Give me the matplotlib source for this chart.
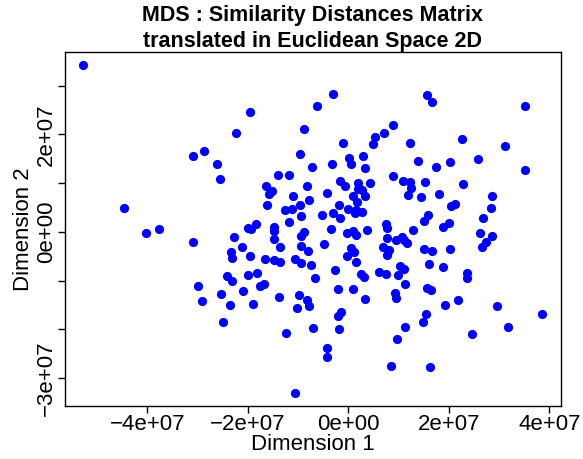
import matplotlib.pyplot as plt

plt.rcParams['font.family'] = ['Liberation Sans', 'DejaVu Sans']

# MDS coordinates (units of 1e6)
dim1 = [-52.7, -30.8, -19.5, -22.4, -28.8, -26.1, -8.9, -6.3, -9.7, -7.2,
        -3.0, 15.6, 16.6, 8.9, 7.1, 5.4, 5.0, -1.1, 12.3, 2.9,
        0.1, 0.5, -3.3, 3.3, 13.8, 17.5, 35.2, 22.6, 31.1, 20.3,
        25.9, 35.2, -44.6, -40.3, -37.7, -30.8, -29.8, -25.5, -13.9, -11.7,
        -16.3, -15.8, -15.2, -8.2, -10.9, -7.9, -16.2, -12.5, -11.1, -9.6,
        -9.4, -11.7, -5.2, -20.0, -19.3, -18.3, -14.7, -14.7, -14.8, -22.8,
        -9.4, -8.9, -21.2, -23.4, -23.2, -19.5, -13.5, -9.5, -8.1, -16.5,
        -14.7, -13.5, -10.6, -9.5, -7.4, -24.2, -23.2, -19.9, -18.1, -6.6,
        -17.5, -16.7, -20.9, -29.0, -25.3, -23.6, -18.9, -25.0, -13.7, -9.8,
        -8.2, -7.8, -10.2, -7.0, -12.3, -10.5, -1.6, -0.7, 2.0, 4.3,
        2.0, 2.7, -4.2, 0.9, 3.3, 8.9, 10.8, 12.2, 12.4, 11.9,
        15.2, 14.4, 18.0, -1.8, 1.7, 0.0, 1.6, 2.8, 1.3, -3.0,
        -1.6, 15.8, 15.0, 18.8, -3.5, -0.3, 0.9, 1.5, 3.8, 7.5,
        7.7, 7.8, 12.8, 9.4, 10.6, 11.1, 11.7, -4.8, 0.5, 1.2,
        -0.3, 6.9, 8.1, 7.8, 15.0, 16.7, 1.5, -2.6, 2.5, 3.2,
        6.1, 7.6, 10.2, 11.0, 9.8, 16.0, 18.8, 11.2, -2.1, 1.0,
        15.6, 16.4, 3.3, 9.2, 9.4, 19.3, -1.4, -2.0, -1.8, 11.2,
        15.5, 14.9, 9.7, -4.3, -4.3, 8.5, 16.3, 22.8, 28.5, 20.5,
        21.2, 28.3, 26.9, 20.0, 26.3, 28.5, 27.4, 26.7, 20.3, 23.6,
        23.6, 21.9, 29.5, 38.6, 31.8, 24.7]
dim2 = [34.2, 15.6, 24.6, 20.2, 16.5, 13.9, 21.0, 25.9, 16.0, 13.4,
        28.3, 28.0, 26.7, 22.0, 20.2, 19.4, 18.0, 18.3, 18.3, 15.5,
        15.2, 14.0, 13.9, 13.1, 14.5, 13.4, 25.9, 19.1, 17.6, 14.3,
        15.0, 12.6, 4.9, -0.2, 0.5, -2.0, -11.1, 10.9, 11.7, 11.7,
        9.5, 7.8, 8.3, 9.4, 7.3, 6.5, 5.6, 4.4, 4.6, 5.6,
        3.3, 2.1, 3.4, 0.9, 0.6, 1.6, 1.1, 0.1, -1.4, -1.0,
        -0.8, -0.1, -3.1, -4.1, -5.4, -5.0, -3.0, -2.9, -3.9, -5.6,
        -5.7, -6.2, -5.6, -6.4, -6.8, -9.1, -10.1, -8.8, -8.4, -9.5,
        -11.0, -10.6, -12.2, -14.1, -12.8, -15.0, -14.8, -18.5, -13.4, -13.0,
        -13.9, -15.2, -15.6, -19.7, -20.8, -33.0, 10.5, 9.5, 10.0, 10.0,
        8.8, 8.6, 8.0, 7.4, 7.3, 11.4, 10.5, 10.3, 9.1, 7.6,
        10.3, 7.1, 7.8, 5.6, 6.2, 4.7, 4.5, 4.1, 3.8, 3.9,
        2.8, 3.5, 2.3, 1.1, 0.7, -0.3, 0.2, -0.6, 0.3, 1.6,
        0.9, -1.2, 0.3, -1.6, -1.1, -1.6, -2.3, -2.5, -3.2, -4.2,
        -4.9, -3.0, -3.8, -4.8, -3.4, -4.0, -6.1, -7.8, -8.6, -9.2,
        -8.2, -8.6, -6.9, -7.5, -8.9, -6.6, -7.1, -10.7, -11.7, -11.7,
        -11.4, -11.9, -13.8, -12.6, -13.6, -14.9, -16.4, -17.3, -20.0, -19.4,
        -16.9, -18.5, -21.9, -23.7, -25.7, -27.4, -27.7, 9.8, 7.3, 5.4,
        5.8, 5.0, 2.8, 1.8, -0.3, -0.8, -2.0, -3.0, -3.5, -8.4,
        -9.5, -13.9, -15.2, -16.9, -19.5, -21.0]

x_ticks = [-4e7, -2e7, 0, 2e7, 4e7]
x_labels = ['\u22124e+07', '\u22122e+07', '0e+00', '2e+07', '4e+07']
y_ticks = [-3e7, -2e7, -1e7, 0, 1e7, 2e7, 3e7]
y_labels = ['\u22123e+07', '', '', '0e+00', '', '2e+07', '']

x = [v * 1e6 for v in dim1]
y = [v * 1e6 for v in dim2]

fig = plt.figure(figsize=(5.83, 4.59), dpi=100)
ax = fig.add_axes([0.1115, 0.1155, 0.8502, 0.7712])

ax.scatter(x, y, s=44, color='#0000ff', linewidths=0, zorder=3)

# R style 4% padding
xr = max(x) - min(x)
yr = max(y) - min(y)
ax.set_xlim(min(x) - 0.04 * xr, max(x) + 0.04 * xr)
ax.set_ylim(min(y) - 0.04 * yr, max(y) + 0.04 * yr)

ax.set_xticks(x_ticks)
ax.set_xticklabels(x_labels, fontsize=16)
ax.set_yticks(y_ticks)
ax.set_yticklabels(y_labels, fontsize=16, rotation=90, va='center')
ax.tick_params(direction='out', length=5, width=1, pad=1)

for s in ax.spines.values():
    s.set_linewidth(1)

ax.set_xlabel('Dimension 1', fontsize=16, labelpad=-1)
ax.set_ylabel('Dimension 2', fontsize=16, labelpad=1)
ax.set_title('MDS : Similarity Distances Matrix\ntranslated in Euclidean Space 2D',
             fontsize=15.5, fontweight='bold', pad=1, linespacing=1.3)

plt.savefig('out.png', dpi=100)
